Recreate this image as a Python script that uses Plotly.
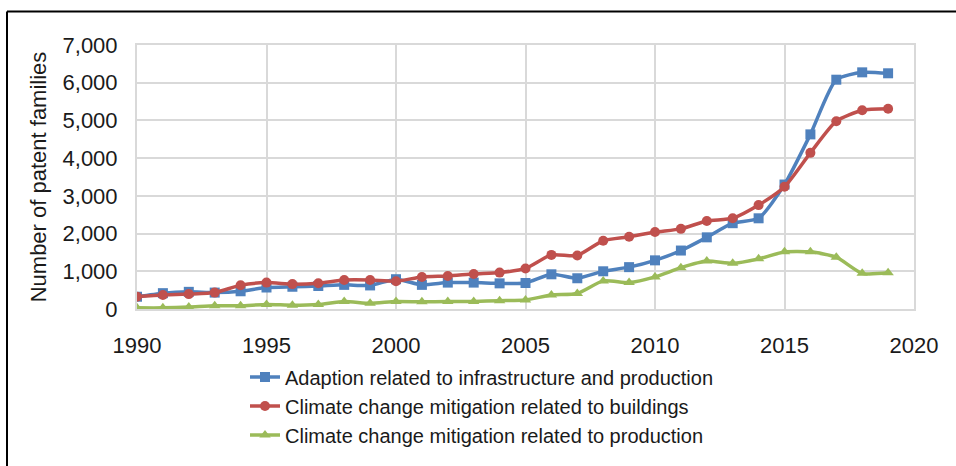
import plotly.graph_objects as go

years = list(range(1990, 2020))

adaption_infrastructure = [325, 420, 455, 435, 470, 570, 590, 610, 640, 625,
                           790, 640, 700, 700, 680, 690, 920, 815, 1000, 1110,
                           1290, 1550, 1900, 2275, 2405, 3300, 4630, 6080, 6275, 6250]
mitigation_buildings = [325, 370, 395, 435, 630, 700, 660, 685, 770, 770,
                        735, 850, 875, 930, 965, 1075, 1435, 1420, 1810, 1915,
                        2040, 2125, 2335, 2405, 2755, 3240, 4140, 4980, 5270, 5310]
mitigation_production = [30, 30, 50, 85, 85, 120, 100, 120, 200, 150,
                         200, 190, 200, 200, 220, 240, 370, 410, 745, 700,
                         850, 1095, 1270, 1210, 1330, 1515, 1515, 1375, 945, 960]

series = [
    ("Adaption related to infrastructure and production", adaption_infrastructure, '#4F81BD', 'square'),
    ("Climate change mitigation related to buildings", mitigation_buildings, '#C0504D', 'circle'),
    ("Climate change mitigation related to production", mitigation_production, '#9BBB59', 'triangle-up'),
]

fig = go.Figure()

for name, values, color, symbol in series:
    fig.add_trace(go.Scatter(
        x=years,
        y=values,
        name=name,
        mode='lines+markers',
        line=dict(color=color, width=3.5, shape='spline', smoothing=0.6),
        marker=dict(symbol=symbol, size=10, color=color)
    ))

grid_color = '#d9d9d9'
text_color = '#1a1a1a'
font_family = 'Liberation Sans, Arial, sans-serif'

fig_w, fig_h = 956, 466
left, top, plot_w, plot_h = 137, 45, 777, 267

fig.update_xaxes(
    range=[1990, 2020],
    dtick=5,
    tick0=1990,
    showgrid=True,
    gridcolor=grid_color,
    gridwidth=2,
    showline=True,
    linecolor=grid_color,
    linewidth=2,
    mirror=True,
    zeroline=False,
    ticklabelstandoff=16,
    tickfont=dict(size=22, color=text_color)
)
fig.update_yaxes(
    range=[0, 7000],
    dtick=1000,
    tickformat=',',
    showgrid=True,
    gridcolor=grid_color,
    gridwidth=2,
    showline=True,
    linecolor=grid_color,
    linewidth=2,
    mirror=True,
    zeroline=False,
    ticklabelstandoff=13,
    tickfont=dict(size=22, color=text_color),
    title=dict(text="Number of patent families", font=dict(size=22, color=text_color), standoff=10)
)

# frame around the picture (only top and left edges visible)
fx = (7 - left) / plot_w
fy = (top + plot_h - 11) / plot_h
frame = dict(color='black', width=2)
fig.add_shape(type='line', xref='paper', yref='paper',
              x0=fx, x1=1.2, y0=fy, y1=fy, line=frame)
fig.add_shape(type='line', xref='paper', yref='paper',
              x0=fx, x1=fx, y0=fy, y1=-0.8, line=frame)

fig.update_layout(
    width=fig_w,
    height=fig_h,
    margin=dict(l=left, r=fig_w - left - plot_w, t=top, b=fig_h - top - plot_h),
    paper_bgcolor='white',
    plot_bgcolor='white',
    font=dict(family=font_family, color=text_color),
    showlegend=True,
    legend=dict(
        x=(245 - 137) / plot_w,
        y=-(361 - 312) / plot_h,
        xanchor='left',
        yanchor='top',
        font=dict(size=20, color=text_color),
        tracegroupgap=0,
        bgcolor='rgba(0,0,0,0)'
    )
)

# drop the default page margin so the figure fills the window exactly
fig.write_html("out.html", config={'displayModeBar': False},
               post_script="document.body.style.margin='0';document.body.style.overflow='hidden';")
